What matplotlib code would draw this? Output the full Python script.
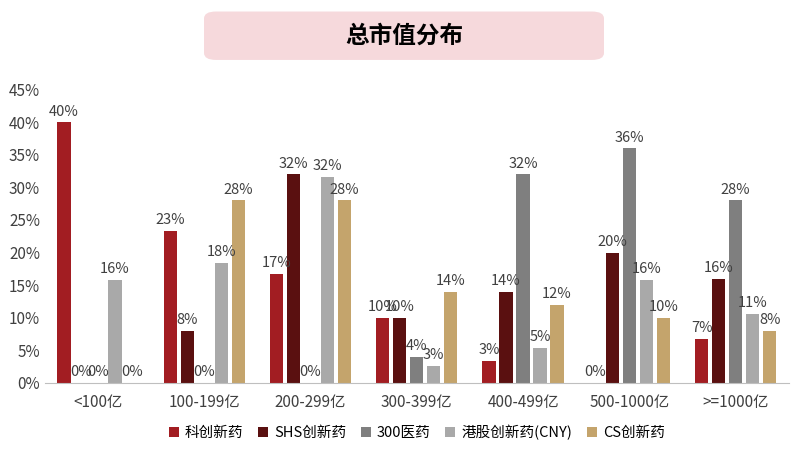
import matplotlib.pyplot as plt
import numpy as np
from matplotlib.patches import FancyBboxPatch

plt.rcParams['font.family'] = ['Noto Sans CJK SC', 'DejaVu Sans']

categories = ['<100亿', '100-199亿', '200-299亿', '300-399亿', '400-499亿', '500-1000亿', '>=1000亿']
series_names = ['科创新药', 'SHS创新药', '300医药', '港股创新药(CNY)', 'CS创新药']
kc = [40.0, 23.3, 16.7, 10.0, 3.3, 0.0, 6.7]
shs = [0.0, 8.0, 32.0, 10.0, 14.0, 20.0, 16.0]
yy300 = [0.0, 0.0, 0.0, 4.0, 32.0, 36.0, 28.0]
hk = [15.8, 18.4, 31.6, 2.6, 5.3, 15.8, 10.6]
cs = [0.0, 28.0, 28.0, 14.0, 12.0, 10.0, 8.0]
colors = ['#A21D22', '#5A1010', '#7F7F7F', '#A9A9A9', '#C4A46C']

fig = plt.figure(figsize=(8, 4.61), dpi=100)
ax = fig.add_axes([0.056, 0.17, 0.93, 0.635])

x = np.arange(len(categories))
w = 0.16
for i, (vals, c, name) in enumerate(zip([kc, shs, yy300, hk, cs], colors, series_names)):
    pos = x + (i - 2) * w
    ax.bar(pos, vals, width=w * 0.78, color=c, label=name)
    for p, v in zip(pos, vals):
        ax.text(p, v + 0.6, f'{v:.0f}%', ha='center', va='bottom', fontsize=10.5, color='#404040')

ax.set_xlim(-0.5, len(categories) - 0.5)
ax.set_ylim(0, 45)
ax.set_yticks(range(0, 46, 5))
ax.set_yticklabels([f'{t}%' for t in range(0, 46, 5)], fontsize=11, color='#404040')
ax.set_xticks(x)
ax.set_xticklabels(categories, fontsize=11, color='#404040')
for s in ['top', 'right', 'left']:
    ax.spines[s].set_visible(False)
ax.spines['bottom'].set_color('#BFBFBF')
ax.tick_params(axis='both', length=0)
ax.tick_params(axis='x', pad=8)

ax.legend(loc='upper center', bbox_to_anchor=(0.5, -0.1), ncol=5, frameon=False,
          fontsize=10.5, handlelength=0.7, handleheight=0.7, columnspacing=1.0, handletextpad=0.4)

box = FancyBboxPatch((0.255, 0.87), 0.5, 0.105, boxstyle='round,pad=0,rounding_size=0.015',
                     transform=fig.transFigure, facecolor='#F6D9DC', edgecolor='none')
fig.patches.append(box)
fig.text(0.505, 0.922, '总市值分布', ha='center', va='center', fontsize=17, fontweight='bold', color='black')

fig.savefig('out.png', dpi=100)
